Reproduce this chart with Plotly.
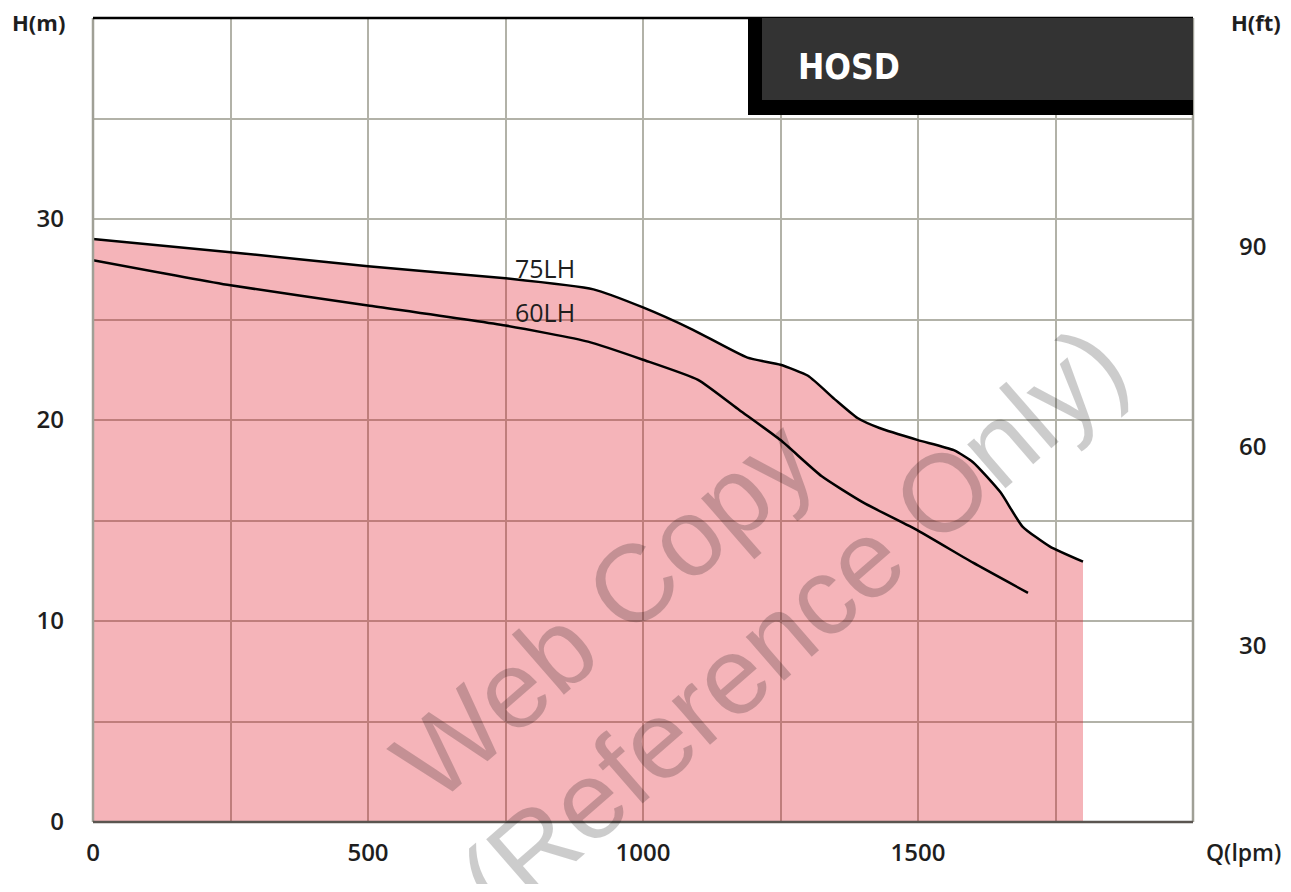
import plotly.graph_objects as go

# ---- data ----
q75 = [0, 250, 500, 750, 910, 1000, 1090, 1190, 1250, 1300, 1350, 1390, 1430, 1500, 1565, 1600, 1650, 1690, 1740, 1800]
h75 = [29.0, 28.35, 27.65, 27.05, 26.5, 25.6, 24.5, 23.1, 22.75, 22.2, 21.0, 20.1, 19.6, 19.0, 18.5, 17.9, 16.4, 14.7, 13.7, 12.95]

q60 = [0, 250, 500, 750, 900, 1000, 1100, 1175, 1250, 1325, 1400, 1500, 1600, 1700]
h60 = [27.95, 26.7, 25.7, 24.7, 23.9, 23.0, 22.0, 20.5, 19.0, 17.2, 15.9, 14.5, 12.9, 11.4]

x_ticks = [0, 250, 500, 750, 1000, 1250, 1500, 1750, 2000]
x_ticktext = ["0", "", "500", "", "1000", "", "1500", "", ""]
y_ticks = [0, 5, 10, 15, 20, 25, 30, 35, 40]
y_ticktext = ["0", "", "10", "", "20", "", "30", "", ""]
yft_ticks = [30, 60, 90]
series_names = ["75LH", "60LH"]
title_text = "HOSD"
x_unit = "Q(lpm)"
y_unit_left = "H(m)"
y_unit_right = "H(ft)"

# ---- layout geometry (screen pixels; page body has an 8px margin) ----
OFF = 8
W, H = 1291 - 2 * OFF, 892 - 2 * OFF
L, R, T, B = 93, 1193, 18, 822   # plot area on screen
XMAX, YMAX = 2000, 40


def pxp(x):
    return (x - L) / (R - L)


def pyp(y):
    return (B - y) / (B - T)


FONT = "Open Sans, DejaVu Sans, sans-serif"
FONT_B = "DejaVu Sans Condensed, Liberation Sans Narrow, Open Sans, sans-serif"
WM_FONT = "Liberation Sans, Arial, sans-serif"
TXT = "#1e1e1e"
FILL = "rgba(222,5,22,0.3)"       # appears as rgb(245,180,185) over white
GRID = "rgb(178,178,168)"

fig = go.Figure()

fig.add_trace(go.Scatter(
    x=q75, y=h75, mode="lines", fill="tozeroy", fillcolor=FILL,
    line=dict(color="black", width=2.5, shape="spline", smoothing=0.5),
    name=series_names[0], hoverinfo="x+y+name"))
fig.add_trace(go.Scatter(
    x=q60, y=h60, mode="lines",
    line=dict(color="black", width=2.5, shape="spline", smoothing=0.5),
    name=series_names[1], hoverinfo="x+y+name"))
# invisible trace to activate the right axis
fig.add_trace(go.Scatter(x=[None], y=[None], yaxis="y2", showlegend=False))

shapes = []
# frame
shapes.append(dict(type="line", xref="paper", yref="paper", x0=0, x1=0, y0=0, y1=1,
                   line=dict(color="rgb(160,160,150)", width=2.5), layer="above"))
shapes.append(dict(type="line", xref="paper", yref="paper", x0=1, x1=1, y0=0, y1=1,
                   line=dict(color="rgb(160,160,150)", width=2.5), layer="above"))
shapes.append(dict(type="line", xref="paper", yref="paper", x0=0, x1=1, y0=1, y1=1,
                   line=dict(color="black", width=2.5), layer="above"))
shapes.append(dict(type="line", xref="paper", yref="paper", x0=0, x1=1, y0=0, y1=0,
                   line=dict(color="rgb(90,85,80)", width=2.5), layer="above"))
# title box
shapes.append(dict(type="rect", xref="paper", yref="paper", x0=pxp(748), x1=1.0, y0=pyp(115), y1=1.0,
                   fillcolor="black", line=dict(width=0), layer="above"))
shapes.append(dict(type="rect", xref="paper", yref="paper", x0=pxp(762), x1=1.0, y0=pyp(100), y1=1.0,
                   fillcolor="rgb(51,51,51)", line=dict(width=0), layer="above"))


def ann(text, x, y, size, color=TXT, family=FONT, weight="normal", angle=0, xref="paper", yref="paper"):
    return dict(text=text, xref=xref, yref=yref, x=x, y=y, showarrow=False,
                xanchor="center", yanchor="middle", textangle=angle,
                font=dict(family=family, size=size, color=color, weight=weight))


annotations = [
    ann(title_text, pxp(849), pyp(67), 35, color="white", family=FONT_B, weight="bold"),
    ann(series_names[0], 822, 27.55, 25, xref="x", yref="y"),
    ann(series_names[1], 822, 25.35, 25, xref="x", yref="y"),
    ann(y_unit_left, pxp(38), pyp(22), 22, weight="bold"),
    ann(y_unit_right, pxp(1256), pyp(22), 22, weight="bold"),
    ann(x_unit, pxp(1243), pyp(852), 23, weight=600),
    ann("Web Copy", pxp(603), pyp(609), 110, color="rgba(0,0,0,0.2)", family=WM_FONT, angle=-41),
    ann("(Reference Only)", pxp(792), pyp(622), 110, color="rgba(0,0,0,0.2)", family=WM_FONT, angle=-41),
]

TICKFONT = dict(family=FONT, size=24, color=TXT, weight=600)

fig.update_layout(
    width=W, height=H,
    margin=dict(l=L - OFF, r=(W + OFF) - R, t=T - OFF, b=(H + OFF) - B, pad=0),
    paper_bgcolor="white", plot_bgcolor="white",
    showlegend=False,
    shapes=shapes, annotations=annotations,
    xaxis=dict(range=[0, XMAX], tickvals=x_ticks, ticktext=x_ticktext, showgrid=True,
               gridcolor=GRID, gridwidth=2,
               zeroline=False, showline=False, ticks="", ticklabelstandoff=14,
               tickfont=TICKFONT),
    yaxis=dict(range=[0, YMAX], tickvals=y_ticks, ticktext=y_ticktext, showgrid=True,
               gridcolor=GRID, gridwidth=2, zeroline=False,
               showline=False, ticks="", ticklabelstandoff=28,
               tickfont=TICKFONT),
    yaxis2=dict(range=[3.5, 124.4], tickvals=yft_ticks, overlaying="y", side="right",
                showgrid=False, zeroline=False, showline=False, ticks="",
                ticklabelstandoff=45, tickfont=TICKFONT),
)

fig.write_html("out.html")
